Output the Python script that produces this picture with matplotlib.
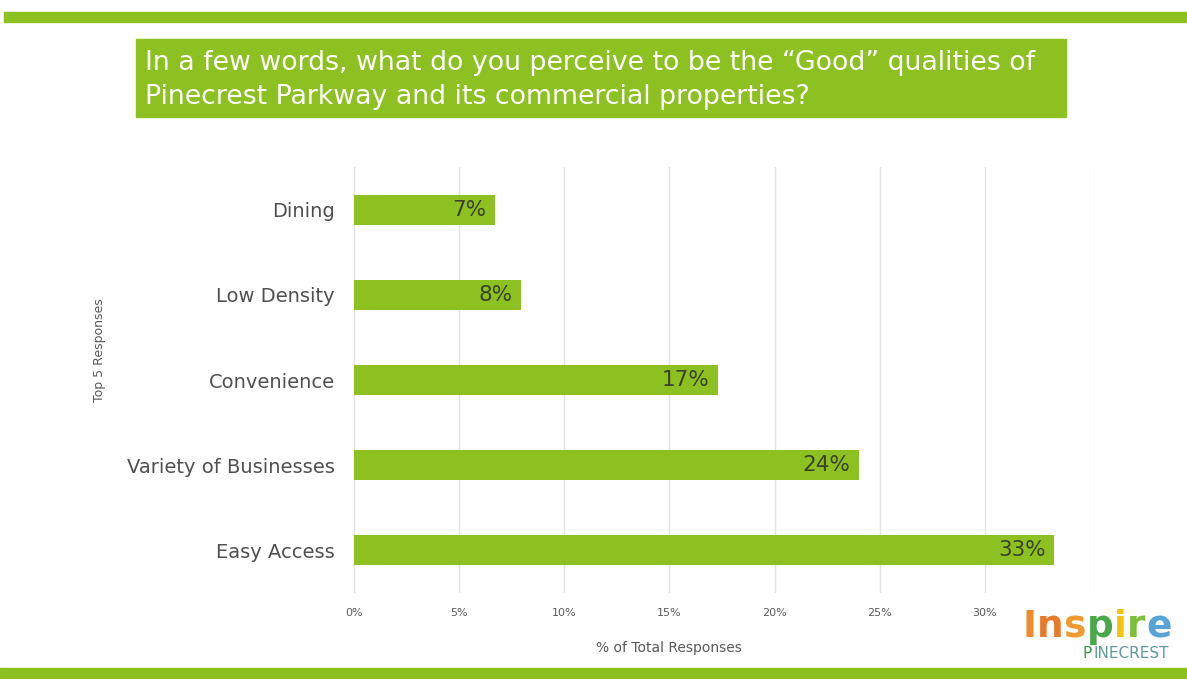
import matplotlib
matplotlib.use("Agg")
import matplotlib.pyplot as plt
from matplotlib.patches import Rectangle

# Survey results: share of total responses per answer (percent)
categories = ["Easy Access", "Variety of Businesses", "Convenience", "Low Density", "Dining"]
shares = [33.3, 24.0, 17.3, 7.95, 6.7]
x_ticks = [0, 5, 10, 15, 20, 25, 30]
x_tick_labels = ["0%", "5%", "10%", "15%", "20%", "25%", "30%"]

title = ("In a few words, what do you perceive to be the \u201cGood\u201d qualities of\n"
         "Pinecrest Parkway and its commercial properties?")

GREEN = "#8dc021"
W, H = 1187, 679

plt.rcParams["font.family"] = ["DejaVu Sans"]
fig = plt.figure(figsize=(W / 100, H / 100), dpi=100)
fig.patch.set_facecolor("white")


def fx(px):
    return px / W


def fy(py):
    return 1 - py / H


# decorative bands at top and bottom
fig.patches.append(Rectangle((fx(4), fy(22)), fx(1183), 10 / H,
                             transform=fig.transFigure, color=GREEN, zorder=0))
fig.patches.append(Rectangle((0, 0), 1, 11 / H,
                             transform=fig.transFigure, color=GREEN, zorder=0))

# title box
fig.patches.append(Rectangle((fx(136), fy(117)), fx(930), 78 / H,
                             transform=fig.transFigure, color=GREEN, zorder=0))
fig.text(fx(145), fy(80), title, color="white", fontsize=19.3,
         ha="left", va="center", linespacing=1.38)

# chart
ax = fig.add_axes([fx(354), fy(593), fx(1090 - 354), (593 - 167) / H])
ypos = list(range(len(categories)))
ax.barh(ypos, shares, height=0.35, color=GREEN, zorder=2)
for y, v in zip(ypos, shares):
    ax.text(v - 0.4, y, f"{v:.0f}%", ha="right", va="center",
            fontsize=15.5, color="#3a4226", zorder=3)

ax.set_xlim(0, 35)
ax.set_ylim(-0.5, 4.5)
ax.set_xticks(x_ticks + [35])
ax.set_xticklabels(x_tick_labels + [""], fontsize=8, color="#595959")
ax.set_yticks(ypos)
ax.set_yticklabels(categories, fontsize=14, color="#505050")
ax.tick_params(axis="both", length=0)
ax.tick_params(axis="y", pad=14)
ax.tick_params(axis="x", pad=11)
ax.grid(axis="x", color="#e2e2e2", linewidth=1, zorder=0)
ax.set_axisbelow(True)
for s in ax.spines.values():
    s.set_visible(False)

ax.set_xlabel("% of Total Responses", fontsize=10, color="#595959")
ax.xaxis.set_label_coords(15 / 35, -0.113)
fig.text(fx(100), fy(350), "Top 5 Responses", rotation=90, fontsize=9,
         color="#595959", ha="center", va="center")

# logo: multicoloured word mark laid out letter by letter
renderer = fig.canvas.get_renderer()
logo_letters = [("I", "#f08a2c"), ("n", "#e87a2a"), ("s", "#f09a30"),
                ("p", "#4aa84a"), ("i", "#f2c40f"), ("r", "#7cbf3a"), ("e", "#58a3d6")]
lx = 1022
for ch, col in logo_letters:
    t = fig.text(fx(lx), fy(637), ch, fontsize=27, fontweight="bold", color=col,
                 ha="left", va="baseline")
    bb = t.get_window_extent(renderer)
    lx += bb.width + 0.5
t = fig.text(fx(1083), fy(658), "P", fontsize=11, color="#3e9b45",
             ha="left", va="baseline")
px_end = 1083 + t.get_window_extent(renderer).width + 1
fig.text(fx(px_end), fy(658), "INECREST", fontsize=11, color="#5f9a98",
         ha="left", va="baseline")

fig.savefig("out.png", dpi=100)
